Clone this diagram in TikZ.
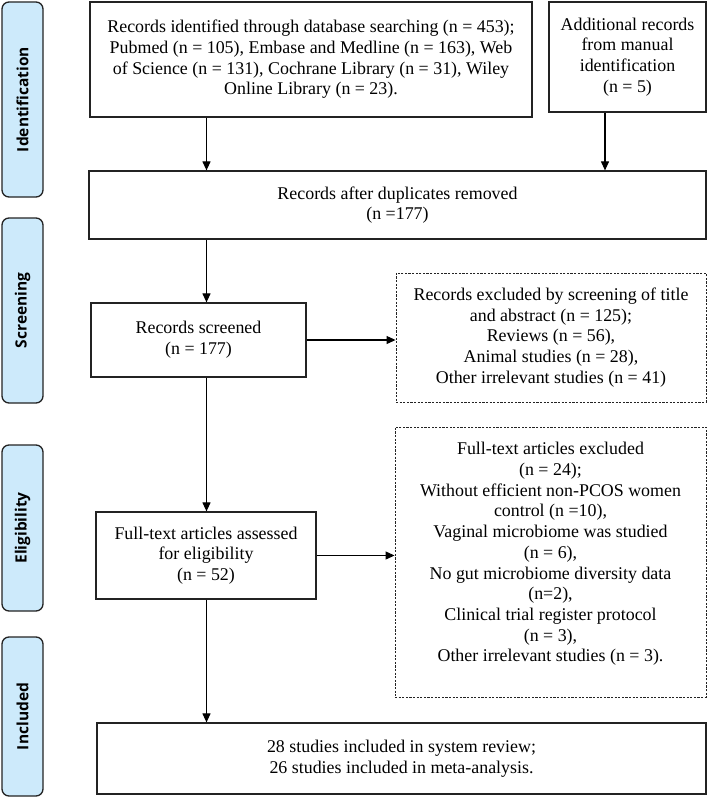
\documentclass[tikz,border=0pt]{standalone}
\usepackage{fontspec}
\setmainfont{Liberation Serif}
\newfontfamily\barfont{Open Sans}
\usetikzlibrary{arrows.meta}
\definecolor{barblue}{RGB}{205,234,251}
\definecolor{edge}{RGB}{35,35,35}
\tikzset{
  box/.style={draw=edge, line width=1.2pt, rectangle, inner sep=0pt, align=center,
    font=\fontsize{17.9}{20.7}\selectfont},
  dbox/.style={draw=edge, line width=0.9pt, dash pattern=on 2.2pt off 1.4pt, rectangle, inner sep=0pt},
  txt/.style={align=center, inner sep=0pt, font=\fontsize{17.9}{20.7}\selectfont},
  bar/.style={draw=edge, line width=1.3pt, fill=barblue, rounded corners=7pt, inner sep=0pt,
    minimum width=41pt},
  bartext/.style={rotate=90, font=\barfont\bfseries\fontsize{15.5}{18}\selectfont},
  arr/.style={draw=black, line width=1.1pt, -{Triangle[length=9pt,width=8pt]}}
}
\begin{document}
\begin{tikzpicture}[x=1pt,y=-1pt]
\useasboundingbox (0,0) rectangle (708,800);
% phase bars
\node[bar, minimum height=195pt] (bid) at (22.5,99.5) {};
\node[bartext] (tid) at (bid.center) {Identification};
\node[bar, minimum height=185pt] (bsc) at (22.5,310.5) {};
\node[bartext] (tsc) at (bsc.center) {Screening};
\node[bar, minimum height=166pt] (bel) at (22.5,528) {};
\node[bartext] (tel) at (bel.center) {Eligibility};
\node[bar, minimum height=159pt] (bin) at (22.5,716.5) {};
\node[bartext] (tin) at (bin.center) {Included};
% boxes
\node[box, minimum width=442pt, minimum height=115pt] (idb) at (311,59.5)
  {Records identified through database searching (n = 453);\\
   Pubmed (n = 105), Embase and Medline (n = 163), Web\\
   of Science (n = 131), Cochrane Library (n = 31), Wiley\\
   Online Library (n = 23).};
\node[box, minimum width=157pt, minimum height=110pt] (add) at (627.5,57)
  {Additional records\\ from manual\\ identification\\ (n = 5)};
\node[box, minimum width=617pt, minimum height=68pt] (dup) at (397.5,205)
  {Records after duplicates removed\\ (n =177)};
\node[box, minimum width=215pt, minimum height=74pt] (scr) at (198.5,340)
  {Records screened\\ (n = 177)};
\node[dbox, minimum width=310pt, minimum height=129pt] (ex1) at (551,337.5) {};
\node[txt] (ex1t) at (ex1.center)
  {Records excluded by screening of title\\ and abstract (n = 125);\\ Reviews (n = 56),\\
   Animal studies (n = 28),\\ Other irrelevant studies (n = 41)};
\node[box, minimum width=220pt, minimum height=87pt] (full) at (206,555.5)
  {Full-text articles assessed\\ for eligibility\\ (n = 52)};
\node[dbox, minimum width=311pt, minimum height=270pt] (ex2) at (550.5,562) {};
\node[txt] (ex2t) at ([yshift=8pt]ex2.center)
  {Full-text articles excluded\\ (n = 24);\\ Without efficient non-PCOS women\\
   control (n =10),\\ Vaginal microbiome was studied\\ (n = 6),\\
   No gut microbiome diversity data\\ (n=2),\\ Clinical trial register protocol\\
   (n = 3),\\ Other irrelevant studies (n = 3).};
\node[box, minimum width=609pt, minimum height=71pt] (inc) at (401.5,758.5)
  {28 studies included in system review;\\ 26 studies included in meta-analysis.};
% connector x positions
\coordinate (c1) at (206.5,0);
\coordinate (c2) at (605,0);
% connectors
\draw[arr] (idb.south -| c1) -- (dup.north -| c1);
\draw[arr] (add.south -| c2) -- (dup.north -| c2);
\draw[arr] (dup.south -| c1) -- (scr.north -| c1);
\draw[arr] (scr.east) -- (ex1.west |- scr.east);
\draw[arr] (scr.south -| c1) -- (full.north -| c1);
\draw[arr] (full.east) -- (ex2.west |- full.east);
\draw[arr] (full.south -| c1) -- (inc.north -| c1);
\end{tikzpicture}
\end{document}
